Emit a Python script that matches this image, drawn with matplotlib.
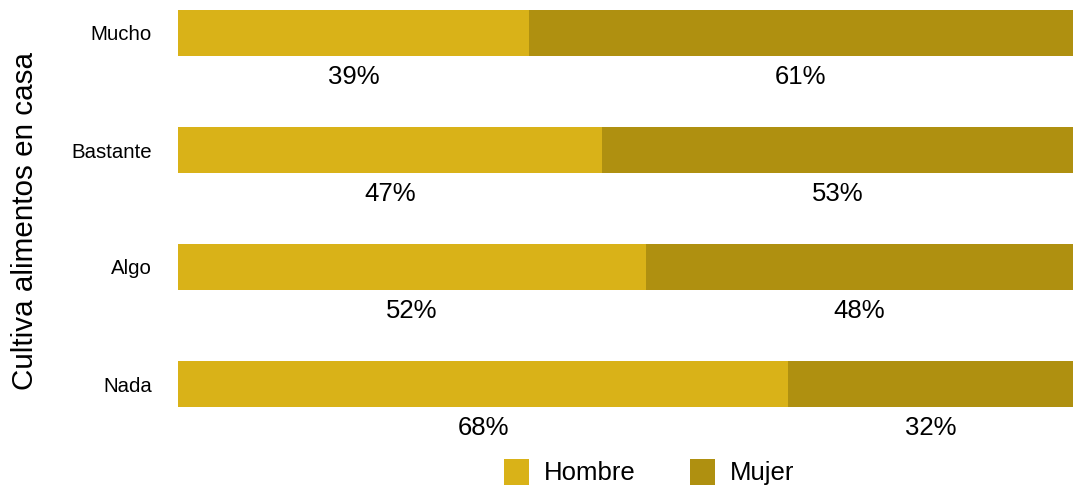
import matplotlib
matplotlib.use("Agg")
import matplotlib.pyplot as plt
from matplotlib.patches import Patch

categories = ["Nada", "Algo", "Bastante", "Mucho"]
hombre = [68.2, 52.3, 47.4, 39.2]
mujer = [31.8, 47.7, 52.6, 60.8]
series_names = ["Hombre", "Mujer"]
colors = ["#D9B218", "#AF9010"]

plt.rcParams['font.family'] = ['Liberation Sans', 'DejaVu Sans']

W, H = 1073, 488
fig = plt.figure(figsize=(W / 100, H / 100), dpi=100)
left_px, right_px, top_px, bot_px = 178, 1073, 10, 407
ax = fig.add_axes([left_px / W, 1 - bot_px / H, (right_px - left_px) / W, (bot_px - top_px) / H])

unit = 117.0
bh = 46 / unit
ypos = list(range(len(categories)))
ax.barh(ypos, hombre, height=bh, color=colors[0], linewidth=0)
ax.barh(ypos, mujer, left=hombre, height=bh, color=colors[1], linewidth=0)
ax.set_xlim(0, 100)
ax.set_ylim(-bh / 2, len(categories) - 1 + bh / 2)

off = 44 / unit
for y, h, m in zip(ypos, hombre, mujer):
    ax.text(h / 2, y - off, f"{round(h)}%", ha='center', va='center', fontsize=18.5, color='black', clip_on=False)
    ax.text(h + m / 2, y - off, f"{round(m)}%", ha='center', va='center', fontsize=18.5, color='black', clip_on=False)

ax.set_yticks(ypos)
ax.set_yticklabels(categories, fontsize=14.7)
ax.tick_params(axis='y', length=0, pad=18.7)
ax.set_xticks([])
for s in ax.spines.values():
    s.set_visible(False)

fig.text(25 / W, 1 - 221 / H, "Cultiva alimentos en casa", rotation=90, ha='center', va='center', fontsize=21.3)

handles = [Patch(facecolor=c, edgecolor='none') for c in colors]
fig.legend(handles, series_names, loc='center', bbox_to_anchor=(649 / W, 1 - 472 / H),
           ncol=2, frameon=False, fontsize=18.5, handlelength=0.97, handleheight=1.2,
           handletextpad=0.58, columnspacing=2.1, borderpad=0, borderaxespad=0)

fig.savefig("out.png", dpi=100)
